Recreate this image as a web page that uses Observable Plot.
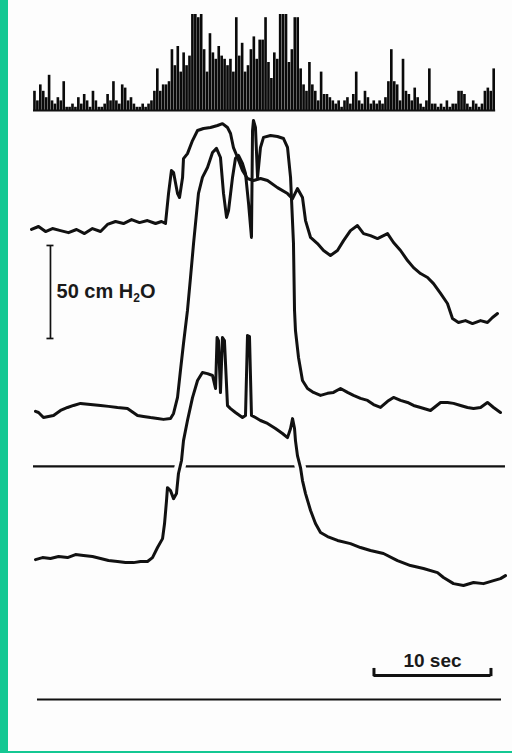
<!DOCTYPE html>
<html><head><meta charset="utf-8">
<script src="https://cdn.jsdelivr.net/npm/d3@7"></script>
<script src="https://cdn.jsdelivr.net/npm/@observablehq/plot@0.6"></script>
<style>
html,body{margin:0;padding:0;background:#fdfdfd;}
#wrap{position:relative;width:512px;height:753px;overflow:hidden;background:#fdfdfd;}
#greenLeft{position:absolute;left:0;top:0;width:8px;height:753px;background:#14c893;}
#greenBottom{position:absolute;left:0;bottom:0;width:512px;height:2px;background:#14c893;}
#hist{position:absolute;left:0;top:0;}
#traces{position:absolute;left:0;top:115px;}
svg{overflow:visible;}
</style></head><body>
<div id="wrap"><div id="hist"></div><div id="traces"></div><div id="greenLeft"></div><div id="greenBottom"></div></div>
<script>
// ---- spike histogram (0.25 s bins) ----
const binWidth = 0.25;
const spikeCounts = [6,3,8,6,4,11,3,2,4,3, 9,1,1,2,1,4,2,5,3,1, 6,3,1,1,2,5,3,9,3,2, 8,7,3,4,2,1,1,2,1,2,
 3,6,13,6,8,8,9,19,14,20, 12,18,14,17,30,30,29,30,19,12, 24,18,16,20,17,16,14,16,12,29, 17,21,12,14,19,23,16,22,22,29,
 15,10,18,16,30,30,30,15,19,29, 29,13,8,6,15,8,6,3,12,5, 5,4,3,2,3,1,3,4,2,5, 12,3,2,6,4,2,3,2,3,2,
 4,9,19,9,8,3,16,6,5,3, 7,4,2,1,3,13,2,2,1,2, 1,3,1,2,2,6,6,5,2,1, 3,2,1,2,6,7,6,13];

// ---- pressure traces: time (s), pressure (cm H2O relative to each trace's baseline) ----
const traceA_t = [-0.17,0.43,1.03,1.62,2.31,2.99,3.68,4.36,5.04,5.73,6.32,7.01,7.69,8.38,9.06,9.74,10.43,10.94,11.28,11.54,11.79,11.97,12.31,12.48,12.74,12.82,13.16,13.59,14.02,14.53,15.13,15.73,16.15,16.58,16.84,17.09,17.44,17.86,18.29,18.80,19.40,20.00,20.85,21.71,22.14,22.56,22.99,23.25,23.68,24.27,24.79,25.38,25.98,26.50,27.09,27.69,28.21,28.80,29.40,30.26,30.77,31.37,31.97,32.48,33.08,33.68,34.19,34.79,35.38,35.81,36.32,36.92,37.52,38.21,38.80,39.23,39.66];
const traceA_p = [-0.5,1.1,-1.6,0,-1.1,-2.2,-0.5,-2.7,0,-1.6,2.2,3.8,2.7,4.8,3.2,4.3,2.7,3.8,2.7,18.8,31.2,30.1,18.8,16.7,27.4,37.6,40.3,47.3,52.7,53.8,54.3,55.4,56.4,54.3,51.1,43.5,38.2,31.2,26.9,25.8,26.9,25.8,22.0,18.8,16.1,21.5,16.7,4.3,-4.8,-8.1,-11.8,-14.5,-11.8,-6.5,-1.1,1.6,-2.7,-3.8,-5.4,-2.7,-7.5,-11.8,-17.2,-21.0,-24.2,-26.3,-29.6,-34.9,-40.3,-48.4,-50.5,-49.5,-51.1,-49.5,-50.5,-47.8,-45.7];

const traceB_t = [0.17,0.43,0.85,1.28,1.71,2.31,2.91,3.42,4.02,4.87,5.73,6.41,7.18,8.03,8.89,9.40,10.00,10.60,11.11,11.71,11.97,12.31,12.56,12.82,13.16,13.42,13.68,14.10,14.44,14.87,15.30,15.64,15.98,16.24,16.50,16.67,17.01,17.26,17.52,17.86,18.12,18.38,18.63,18.72,18.80,18.97,19.15,19.40,19.66,20.26,20.85,21.37,21.71,21.97,22.22,22.31,22.39,22.65,22.99,23.42,23.93,24.53,25.13,25.64,26.24,26.84,27.35,27.95,28.55,29.06,29.66,30.26,30.77,31.37,31.97,32.48,33.08,33.93,34.79,35.38,35.90,36.50,37.09,37.61,38.21,38.80,39.32,39.91];
const traceB_p = [1.1,0.5,-2.2,-1.6,-1.1,1.6,3.2,4.3,5.4,4.8,4.3,3.8,3.2,2.7,-1.1,-1.6,-2.2,-2.7,-3.2,-2.7,0,8.6,23.1,37.6,55.4,73.1,91.4,118.3,126.9,132.2,140.3,142.5,137.6,118.3,105.4,109.1,126.9,137.1,138.7,134.4,129.0,112.9,94.6,152.1,157.5,153.8,126.9,143.0,148.4,149.4,148.9,147.8,143.0,126.9,91.4,55.4,44.6,30.1,17.7,13.4,11.3,9.7,10.8,11.3,13.4,11.3,9.7,8.1,7.0,4.8,3.2,6.5,8.6,7.0,5.9,4.3,3.2,1.6,5.9,5.9,5.4,4.3,3.2,2.7,3.2,5.9,3.2,0.5];

const traceC_t = [0.17,0.77,1.45,2.14,2.91,3.59,4.27,5.04,5.73,6.41,7.18,7.86,8.55,9.15,9.74,10.17,10.60,11.03,11.20,11.37,11.45,11.71,11.97,12.22,12.39,12.65,12.82,13.16,13.59,14.02,14.44,14.87,15.30,15.56,15.69,15.81,15.98,16.15,16.32,16.58,16.84,17.26,17.86,18.12,18.29,18.46,18.63,18.97,19.40,20.00,20.68,21.28,21.71,21.97,22.14,22.31,22.39,22.56,22.82,22.99,23.25,23.68,24.10,24.53,25.13,25.98,27.09,27.95,28.80,29.91,31.11,32.22,33.33,34.53,35.04,35.90,36.75,37.61,38.46,39.32,39.91,40.34];
const traceC_p = [0.5,1.6,1.1,2.2,1.6,3.2,2.7,2.2,1.1,0,-0.5,-1.1,-1.1,-0.5,-0.5,1.6,7.0,11.8,19.9,32.3,39.2,37.6,33.3,36.0,46.8,53.8,64.5,75.3,87.6,96.8,101.1,100.5,99.5,92.5,119.9,118.3,90.3,119.9,118.3,83.3,81.7,79.6,76.9,78.0,121.0,120.4,78.0,76.9,75.3,73.7,71.0,68.3,66.1,71.0,76.3,71.0,64.5,56.4,50.0,43.0,36.0,26.9,19.9,15.1,12.9,10.8,9.1,7.0,5.4,3.8,0,-2.7,-4.3,-6.5,-9.1,-12.4,-13.4,-11.8,-12.4,-10.8,-9.7,-8.1];

// vertical stacking of the traces on the page (cm H2O above the bottom line)
const offsetA = 253.2, offsetB = 153.8, offsetC = 74.7;
const referenceLevel = 125.3;
const recordStart = 0, recordEnd = 40.34;

// calibration bars & labels
const pressureBarT = 1.45, pressureBarLow = 194.1, pressureBarSize = 50;
const pressureLabel = "50 cm H2O", pressureLabelT = 1.97, pressureLabelV = 215.6;
const timeBarStart = 29.1, timeBarSize = 10, timeBarV = 12.9;
const timeLabel = "10 sec", timeLabelV = 17.7;

const xDomain = [-2.821, 40.94];
const ink = "#111111";
const font = "'Liberation Sans', Arial, Helvetica, sans-serif";

const bins = spikeCounts.map((c, i) => ({t1: i * binWidth, t2: (i + 1) * binWidth, count: c}));
const mk = (ts, ps, off) => ts.map((t, i) => ({t, v: ps[i] + off}));
const A = mk(traceA_t, traceA_p, offsetA);
const B = mk(traceB_t, traceB_p, offsetB);
const C = mk(traceC_t, traceC_p, offsetC);

const hist = Plot.plot({
  width: 512, height: 115, marginTop: 14, marginBottom: 5, marginLeft: 0, marginRight: 0,
  x: {domain: xDomain, axis: null},
  y: {domain: [0, 30], axis: null},
  style: {background: "transparent"},
  marks: [
    Plot.rectY(bins, {x1: "t1", x2: "t2", y: "count", fill: "#0a0a0a", insetLeft: 0.15, insetRight: 0.15}),
    Plot.ruleY([0], {x1: 0, x2: bins.length * binWidth, stroke: ink, strokeWidth: 2.2})
  ]
});
document.getElementById("hist").appendChild(hist);

const lineStyle = {x: "t", y: "v", stroke: ink, strokeWidth: 3, strokeLinejoin: "round", strokeLinecap: "round", curve: "linear"};
const traces = Plot.plot({
  width: 512, height: 638, marginTop: 0, marginBottom: 0, marginLeft: 0, marginRight: 0,
  x: {domain: xDomain, axis: null},
  y: {domain: [-29.03, 313.98], axis: null},
  style: {background: "transparent"},
  marks: [
    Plot.ruleY([referenceLevel], {x1: recordStart, x2: recordEnd, stroke: ink, strokeWidth: 2.2}),
    Plot.ruleY([0], {x1: 0.34, x2: 40.0, stroke: ink, strokeWidth: 2.2}),
    Plot.line(C, {x: "t", y: "v", stroke: "#fdfdfd", strokeWidth: 11}),
    Plot.line(C, lineStyle),
    Plot.line(B, lineStyle),
    Plot.line(A, lineStyle),
    // pressure calibration bar
    Plot.ruleX([pressureBarT], {y1: pressureBarLow, y2: pressureBarLow + pressureBarSize, stroke: ink, strokeWidth: 1.7}),
    Plot.ruleY([pressureBarLow, pressureBarLow + pressureBarSize], {x1: pressureBarT - 0.3, x2: pressureBarT + 0.3, stroke: ink, strokeWidth: 1.7}),
    Plot.text([pressureLabel], {x: pressureLabelT, y: pressureLabelV, text: d => d, textAnchor: "start", lineAnchor: "bottom", fontSize: 20, fontWeight: "bold", fontFamily: font, fill: "#1a1a1a"}),
    // time calibration bar
    Plot.ruleY([timeBarV], {x1: timeBarStart, x2: timeBarStart + timeBarSize, stroke: ink, strokeWidth: 3}),
    Plot.ruleX([timeBarStart, timeBarStart + timeBarSize], {y1: timeBarV - 0.6, y2: timeBarV + 3.8, stroke: ink, strokeWidth: 3}),
    Plot.text([timeLabel], {x: timeBarStart + timeBarSize / 2, y: timeLabelV, text: d => d, textAnchor: "middle", lineAnchor: "bottom", fontSize: 19, fontWeight: "bold", fontFamily: font, fill: "#1a1a1a"})
  ]
});
// subscript for H2O
d3.select(traces).selectAll("text").each(function () {
  if (this.textContent === pressureLabel) {
    const el = d3.select(this);
    el.text(null);
    el.append("tspan").text("50 cm H");
    el.append("tspan").attr("font-size", 12).attr("dy", 4).text("2");
    el.append("tspan").attr("dy", -4).text("O");
  }
});
document.getElementById("traces").appendChild(traces);
</script>
</body></html>
